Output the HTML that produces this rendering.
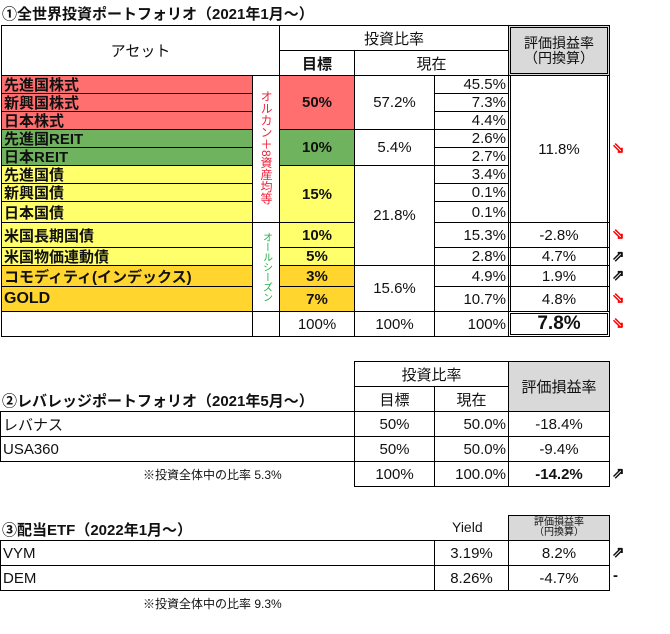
<!DOCTYPE html>
<html><head><meta charset="utf-8"><style>
body{margin:0;width:670px;height:634px;background:#fff;position:relative;overflow:hidden;font-family:"Liberation Sans","Noto Sans CJK JP",sans-serif;color:#111}
.c{position:absolute;box-sizing:border-box;border:1px solid #000;display:flex;align-items:center;justify-content:center;font-size:15px;white-space:nowrap}
.l{justify-content:flex-start;padding-left:2px;font-size:15px;font-weight:bold}
.r{justify-content:flex-end;padding-right:2px}
.t{position:absolute;font-size:15px;font-weight:bold;white-space:nowrap}
.n{position:absolute;font-size:12px;white-space:nowrap}
.red{background:#FF6F6F}.grn{background:#70B35F}.yel{background:#FFFF6B}.org{background:#FFD52E}.gry{background:#D9D9D9}
.b{font-weight:bold}
.ar{position:absolute;font-size:15px;font-weight:bold}
.dbl{border:3px double #000}
</style></head><body>
<div class="t" style="left:2px;top:3px">①全世界投資ポートフォリオ（2021年1月～）</div>

<div class="c" style="left:1px;top:25px;width:279px;height:51px;font-size:15px">アセット</div>
<div class="c" style="left:279px;top:25px;width:230px;height:26px">投資比率</div>
<div class="c b" style="left:279px;top:50px;width:76px;height:26px">目標</div>
<div class="c" style="left:354px;top:50px;width:155px;height:26px">現在</div>
<div class="c gry dbl" style="left:508px;top:25px;width:102px;height:51px;flex-direction:column;line-height:15px;font-size:14px"><span>評価損益率</span><span>（円換算）</span></div>

<div class="c l red" style="left:1px;top:75px;width:252px;height:19px">先進国株式</div>
<div class="c l red" style="left:1px;top:93px;width:252px;height:19px">新興国株式</div>
<div class="c l red" style="left:1px;top:111px;width:252px;height:19px">日本株式</div>
<div class="c l grn" style="left:1px;top:129px;width:252px;height:19px">先進国REIT</div>
<div class="c l grn" style="left:1px;top:147px;width:252px;height:19px">日本REIT</div>
<div class="c l yel" style="left:1px;top:165px;width:252px;height:19px">先進国債</div>
<div class="c l yel" style="left:1px;top:183px;width:252px;height:19px">新興国債</div>
<div class="c l yel" style="left:1px;top:201px;width:252px;height:22px">日本国債</div>
<div class="c l yel" style="left:1px;top:222px;width:252px;height:26px">米国長期国債</div>
<div class="c l yel" style="left:1px;top:247px;width:252px;height:19px">米国物価連動債</div>
<div class="c l org" style="left:1px;top:265px;width:252px;height:22px">コモディティ(インデックス)</div>
<div class="c l org" style="left:1px;top:286px;width:252px;height:26px;font-size:16px">GOLD</div>
<div class="c" style="left:1px;top:311px;width:252px;height:26px"></div>

<div class="c" style="left:252px;top:75px;width:28px;height:148px;align-items:flex-start;padding-top:14px"><span style="writing-mode:vertical-rl;color:#F0203A;font-size:12px;line-height:12px">オルカン＋8資産均等</span></div>
<div class="c" style="left:252px;top:222px;width:28px;height:90px"><span style="writing-mode:vertical-rl;color:#20B040;font-size:10px">オールシーズン</span></div>
<div class="c" style="left:252px;top:311px;width:28px;height:26px"></div>

<div class="c b red" style="left:279px;top:75px;width:76px;height:55px">50%</div>
<div class="c b grn" style="left:279px;top:129px;width:76px;height:37px">10%</div>
<div class="c b yel" style="left:279px;top:165px;width:76px;height:58px">15%</div>
<div class="c b yel" style="left:279px;top:222px;width:76px;height:26px">10%</div>
<div class="c b yel" style="left:279px;top:247px;width:76px;height:19px">5%</div>
<div class="c b org" style="left:279px;top:265px;width:76px;height:22px">3%</div>
<div class="c b org" style="left:279px;top:286px;width:76px;height:26px">7%</div>
<div class="c" style="left:279px;top:311px;width:76px;height:26px">100%</div>

<div class="c" style="left:354px;top:75px;width:81px;height:55px">57.2%</div>
<div class="c" style="left:354px;top:129px;width:81px;height:37px">5.4%</div>
<div class="c" style="left:354px;top:165px;width:81px;height:101px">21.8%</div>
<div class="c" style="left:354px;top:265px;width:81px;height:47px">15.6%</div>
<div class="c" style="left:354px;top:311px;width:81px;height:26px">100%</div>

<div class="c r" style="left:434px;top:75px;width:75px;height:19px">45.5%</div>
<div class="c r" style="left:434px;top:93px;width:75px;height:19px">7.3%</div>
<div class="c r" style="left:434px;top:111px;width:75px;height:19px">4.4%</div>
<div class="c r" style="left:434px;top:129px;width:75px;height:19px">2.6%</div>
<div class="c r" style="left:434px;top:147px;width:75px;height:19px">2.7%</div>
<div class="c r" style="left:434px;top:165px;width:75px;height:19px">3.4%</div>
<div class="c r" style="left:434px;top:183px;width:75px;height:19px">0.1%</div>
<div class="c r" style="left:434px;top:201px;width:75px;height:22px">0.1%</div>
<div class="c r" style="left:434px;top:222px;width:75px;height:26px">15.3%</div>
<div class="c r" style="left:434px;top:247px;width:75px;height:19px">2.8%</div>
<div class="c r" style="left:434px;top:265px;width:75px;height:22px">4.9%</div>
<div class="c r" style="left:434px;top:286px;width:75px;height:26px">10.7%</div>
<div class="c r" style="left:434px;top:311px;width:75px;height:26px">100%</div>

<div class="c" style="left:508px;top:75px;width:102px;height:148px;border-left:3px double #000;border-right:3px double #000">11.8%</div>
<div class="c" style="left:508px;top:222px;width:102px;height:26px;border-left:3px double #000;border-right:3px double #000">-2.8%</div>
<div class="c" style="left:508px;top:247px;width:102px;height:19px;border-left:3px double #000;border-right:3px double #000">4.7%</div>
<div class="c" style="left:508px;top:265px;width:102px;height:22px;border-left:3px double #000;border-right:3px double #000">1.9%</div>
<div class="c" style="left:508px;top:286px;width:102px;height:26px;border-left:3px double #000;border-right:3px double #000">4.8%</div>
<div class="c b dbl" style="left:508px;top:311px;width:102px;height:26px;font-size:19px">7.8%</div>

<div class="ar" style="left:612px;top:139px;color:#f00">⇘</div>
<div class="ar" style="left:612px;top:225px;color:#f00">⇘</div>
<div class="ar" style="left:612px;top:247px">⇗</div>
<div class="ar" style="left:612px;top:266px">⇗</div>
<div class="ar" style="left:612px;top:289px;color:#f00">⇘</div>
<div class="ar" style="left:612px;top:314px;color:#f00">⇘</div>

<div class="t" style="left:2px;top:390px">②レバレッジポートフォリオ（2021年5月～）</div>
<div class="c" style="left:354px;top:361px;width:155px;height:26px">投資比率</div>
<div class="c" style="left:354px;top:386px;width:81px;height:26px">目標</div>
<div class="c" style="left:434px;top:386px;width:75px;height:26px">現在</div>
<div class="c gry" style="left:508px;top:361px;width:102px;height:51px">評価損益率</div>
<div class="c l" style="left:0;top:411px;width:355px;height:26px;font-weight:normal">レバナス</div>
<div class="c l" style="left:0;top:436px;width:355px;height:26px;font-weight:normal">USA360</div>
<div class="c" style="left:354px;top:411px;width:81px;height:26px">50%</div>
<div class="c r" style="left:434px;top:411px;width:75px;height:26px">50.0%</div>
<div class="c" style="left:508px;top:411px;width:102px;height:26px">-18.4%</div>
<div class="c" style="left:354px;top:436px;width:81px;height:26px">50%</div>
<div class="c r" style="left:434px;top:436px;width:75px;height:26px">50.0%</div>
<div class="c" style="left:508px;top:436px;width:102px;height:26px">-9.4%</div>
<div class="c" style="left:354px;top:461px;width:81px;height:26px">100%</div>
<div class="c r" style="left:434px;top:461px;width:75px;height:26px">100.0%</div>
<div class="c b" style="left:508px;top:461px;width:102px;height:26px">-14.2%</div>
<div class="ar" style="left:612px;top:464px">⇗</div>
<div class="n" style="left:143px;top:466px">※投資全体中の比率 5.3%</div>

<div class="t" style="left:2px;top:519px">③配当ETF（2022年1月～）</div>
<div class="n" style="left:452px;top:519px;font-size:14px">Yield</div>
<div class="c gry" style="left:508px;top:515px;width:102px;height:26px;flex-direction:column;font-size:10px;line-height:10px"><span>評価損益率</span><span>（円換算）</span></div>
<div class="c l" style="left:0;top:540px;width:435px;height:26px;font-weight:normal">VYM</div>
<div class="c l" style="left:0;top:565px;width:435px;height:26px;font-weight:normal">DEM</div>
<div class="c" style="left:434px;top:540px;width:75px;height:26px">3.19%</div>
<div class="c" style="left:434px;top:565px;width:75px;height:26px">8.26%</div>
<div class="c" style="left:508px;top:540px;width:102px;height:26px">8.2%</div>
<div class="c" style="left:508px;top:565px;width:102px;height:26px">-4.7%</div>
<div class="ar" style="left:612px;top:543px">⇗</div>
<div class="ar" style="left:613px;top:567px">-</div>
<div class="n" style="left:143px;top:595px">※投資全体中の比率 9.3%</div>
</body></html>
